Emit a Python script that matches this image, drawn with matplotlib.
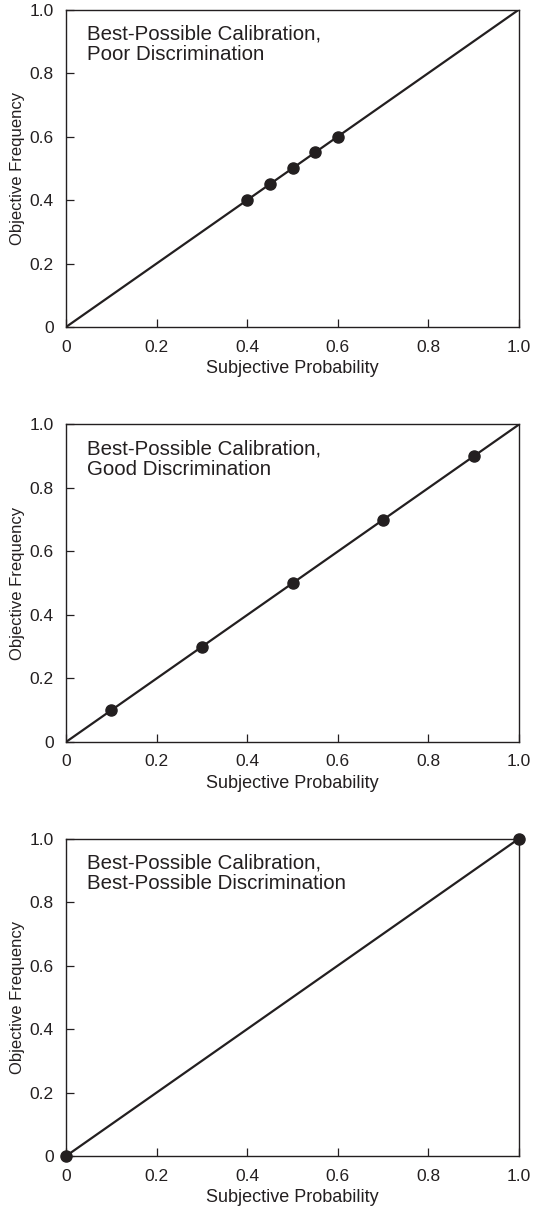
import numpy as np
import matplotlib
matplotlib.use('Agg')
import matplotlib.pyplot as plt

plt.rcParams['font.family'] = ['Liberation Sans', 'DejaVu Sans']

ink = '#231f20'

# data
titles = ['Best-Possible Calibration,\nPoor Discrimination',
          'Best-Possible Calibration,\nGood Discrimination',
          'Best-Possible Calibration,\nBest-Possible Discrimination']
subj_prob = [[0.4, 0.45, 0.5, 0.55, 0.6],
             [0.1, 0.3, 0.5, 0.7, 0.9],
             [0.0, 1.0]]
obj_freq = [[0.4, 0.45, 0.5, 0.55, 0.6],
            [0.1, 0.3, 0.5, 0.7, 0.9],
            [0.0, 1.0]]
ticks = [0, 0.2, 0.4, 0.6, 0.8, 1.0]
tick_labels = ['0', '0.2', '0.4', '0.6', '0.8', '1.0']

fig = plt.figure(figsize=(5.35, 12.08), dpi=100)
bottoms = [0.7293, 0.3858, 0.0430]

for i in range(3):
    ax = fig.add_axes([0.1234, bottoms[i], 0.8467, 0.2628])
    ax.plot([0, 1], [0, 1], color=ink, lw=1.6, solid_capstyle='butt')
    ax.plot(subj_prob[i], obj_freq[i], 'o', color=ink, ms=8, clip_on=False, zorder=5)
    ax.set_xlim(0, 1)
    ax.set_ylim(0, 1)
    ax.set_xticks(ticks)
    ax.set_xticklabels(tick_labels)
    ax.set_yticks(ticks)
    ax.set_yticklabels(tick_labels)
    ax.tick_params(direction='in', length=6, width=0.9, color=ink,
                   labelsize=12.5, labelcolor=ink, pad=9)
    for s in ax.spines.values():
        s.set_color(ink)
        s.set_linewidth(1.0)
    ax.set_xlabel('Subjective Probability', fontsize=13, color=ink, labelpad=4)
    ax.set_ylabel('Objective Frequency', fontsize=12, color=ink, labelpad=3)
    ax.text(0.046, 0.953, titles[i], transform=ax.transAxes, fontsize=14.8,
            color=ink, va='top', ha='left', linespacing=1.12)

fig.savefig('out.png', dpi=100)
